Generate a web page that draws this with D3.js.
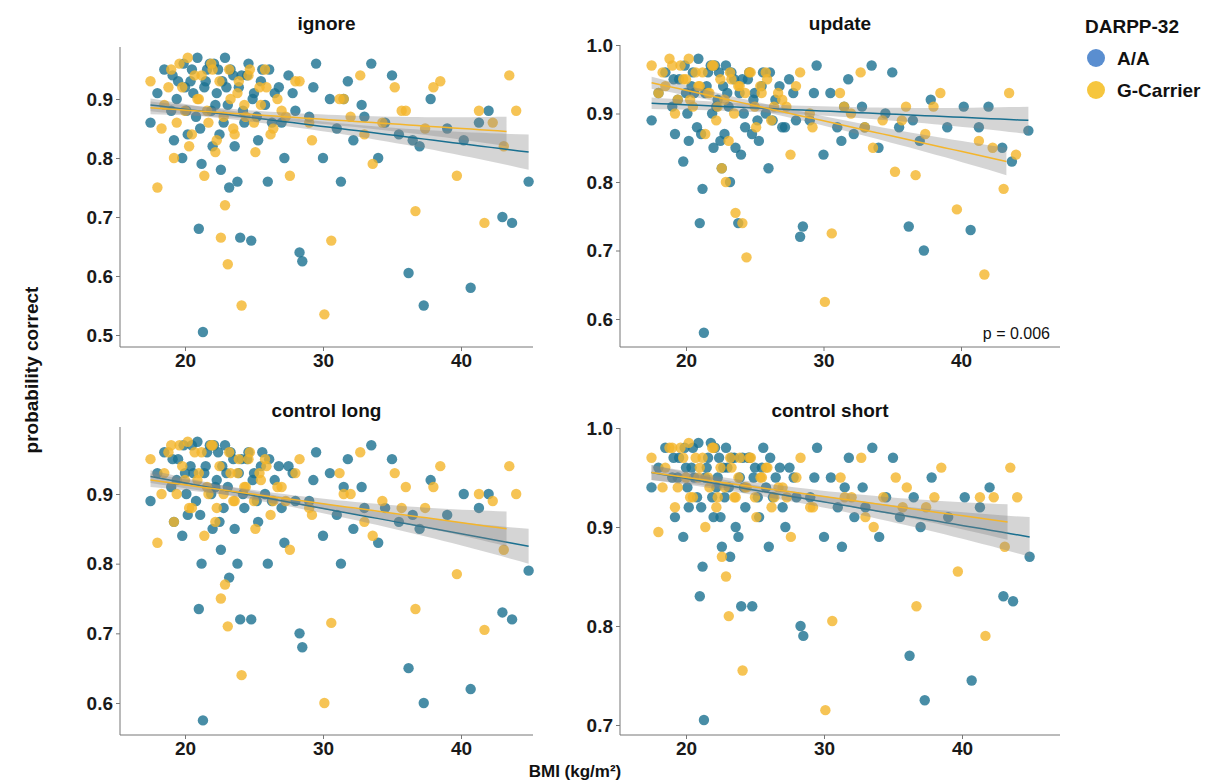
<!DOCTYPE html>
<html><head><meta charset="utf-8">
<script src="https://cdn.jsdelivr.net/npm/d3@7"></script>
<style>body{margin:0;background:#fff;font-family:Arial,"Liberation Sans",sans-serif}</style>
</head><body><svg id="c" width="1219" height="782"></svg>
<script>
// BMI per subject
const bmiAA=[17.5,18,18.5,19,19.2,19.5,19.8,20,20.2,20.5,20.8,21,21.2,21.3,21.5,21.8,22,22.2,22.4,22.6,22.8,23,23.2,23.5,23.8,24,24.2,24.5,24.8,25,25.3,25.6,26,26.3,26.8,27.2,27.8,28.3,28.5,29,29.5,30,30.5,31,31.3,31.8,32.2,32.8,33.5,34,34.5,35,35.5,36.2,36.5,37,37.3,37.8,39,40.2,40.7,41.3,42,43,43.7,44.9,
  19.1,19.4,19.9,20.1,20.4,20.6,20.9,21.1,21.4,21.6,21.9,22.1,22.3,22.5,22.7,22.9,23.1,23.3,23.6,23.9,24.1,24.3,24.6,24.9,25.2,25.5,25.8,26.1,26.5,27,27.5,28,29.3,31.5,33];
const bmiG=[17.5,18,18.3,18.8,19.2,19.6,20,20.3,20.7,21,21.4,21.7,22,22.3,22.6,22.9,23.1,23.3,23.6,23.9,24.1,24.4,24.7,25.1,25.5,25.9,26.4,27,27.6,28.3,29.2,30.1,30.6,31.2,32,32.7,33.6,34.3,35.2,36,36.7,37.4,38.5,39.7,41.3,41.7,42.3,43.1,43.5,44,
  18.5,19,19.4,19.8,20.2,20.5,20.9,21.2,21.6,21.9,22.2,22.5,22.8,23.2,23.5,23.8,24.3,24.6,25,25.4,25.8,26.2,26.7,27.3,28,29,31.5,33,35.7,38];

// probability correct per panel
const ignoreAA=[0.86,0.91,0.95,0.88,0.83,0.93,0.80,0.92,0.84,0.95,0.87,0.68,0.79,0.505,0.93,0.96,0.82,0.89,0.95,0.78,0.86,0.92,0.75,0.94,0.76,0.665,0.88,0.94,0.66,0.91,0.83,0.95,0.76,0.86,0.92,0.80,0.91,0.64,0.625,0.87,0.96,0.80,0.90,0.85,0.76,0.93,0.83,0.89,0.96,0.80,0.86,0.94,0.84,0.605,0.83,0.82,0.55,0.90,0.85,0.83,0.58,0.86,0.88,0.70,0.69,0.76,
  0.94,0.90,0.96,0.88,0.93,0.91,0.97,0.85,0.92,0.95,0.88,0.96,0.91,0.84,0.93,0.97,0.89,0.95,0.82,0.92,0.94,0.86,0.96,0.90,0.87,0.93,0.89,0.95,0.91,0.86,0.94,0.88,0.92,0.90,0.87];
const ignoreG=[0.93,0.75,0.85,0.92,0.80,0.96,0.88,0.82,0.94,0.90,0.77,0.86,0.95,0.83,0.665,0.72,0.62,0.90,0.84,0.93,0.55,0.87,0.95,0.81,0.89,0.92,0.85,0.88,0.77,0.93,0.83,0.535,0.66,0.90,0.87,0.94,0.79,0.86,0.92,0.88,0.71,0.85,0.93,0.77,0.88,0.69,0.86,0.82,0.94,0.88,
  0.89,0.95,0.86,0.92,0.97,0.84,0.90,0.94,0.88,0.96,0.81,0.93,0.87,0.95,0.85,0.91,0.89,0.94,0.86,0.92,0.95,0.84,0.90,0.87,0.93,0.86,0.90,0.84,0.88,0.92];
const updateAA=[0.89,0.93,0.96,0.91,0.87,0.95,0.83,0.93,0.86,0.96,0.88,0.74,0.79,0.58,0.94,0.97,0.85,0.91,0.96,0.82,0.87,0.93,0.80,0.95,0.74,0.84,0.90,0.95,0.87,0.93,0.86,0.96,0.82,0.89,0.94,0.88,0.93,0.72,0.735,0.89,0.97,0.84,0.93,0.88,0.86,0.95,0.87,0.91,0.97,0.85,0.90,0.96,0.88,0.735,0.89,0.86,0.70,0.92,0.88,0.91,0.73,0.88,0.91,0.85,0.83,0.875,
  0.95,0.92,0.97,0.90,0.94,0.93,0.98,0.87,0.93,0.96,0.90,0.97,0.92,0.86,0.94,0.97,0.91,0.96,0.85,0.93,0.95,0.88,0.96,0.92,0.89,0.94,0.90,0.96,0.92,0.88,0.95,0.89,0.93,0.91,0.88];
const updateG=[0.97,0.93,0.96,0.98,0.90,0.97,0.95,0.92,0.96,0.94,0.87,0.93,0.97,0.91,0.82,0.80,0.86,0.95,0.755,0.94,0.74,0.69,0.96,0.88,0.93,0.95,0.91,0.92,0.84,0.96,0.88,0.625,0.725,0.93,0.90,0.96,0.85,0.89,0.815,0.91,0.81,0.87,0.93,0.76,0.86,0.665,0.85,0.79,0.93,0.84,
  0.94,0.97,0.92,0.95,0.98,0.91,0.94,0.96,0.93,0.97,0.89,0.95,0.92,0.96,0.90,0.94,0.93,0.96,0.91,0.94,0.96,0.89,0.93,0.91,0.94,0.90,0.91,0.88,0.89,0.91];
const longAA=[0.89,0.93,0.96,0.91,0.86,0.95,0.84,0.93,0.87,0.97,0.89,0.735,0.80,0.575,0.94,0.97,0.85,0.91,0.96,0.82,0.88,0.93,0.78,0.95,0.80,0.72,0.90,0.95,0.72,0.93,0.86,0.96,0.80,0.89,0.94,0.83,0.93,0.70,0.68,0.89,0.96,0.84,0.93,0.87,0.80,0.95,0.85,0.91,0.97,0.83,0.88,0.95,0.86,0.65,0.87,0.85,0.60,0.92,0.87,0.90,0.62,0.88,0.90,0.73,0.72,0.79,
  0.95,0.92,0.97,0.90,0.94,0.93,0.975,0.87,0.93,0.96,0.90,0.97,0.92,0.86,0.94,0.97,0.91,0.96,0.85,0.93,0.95,0.88,0.96,0.92,0.89,0.94,0.90,0.95,0.92,0.88,0.94,0.89,0.92,0.91,0.88];
const longG=[0.95,0.83,0.90,0.96,0.86,0.97,0.92,0.88,0.96,0.93,0.84,0.90,0.97,0.88,0.75,0.77,0.71,0.93,0.89,0.95,0.64,0.91,0.96,0.85,0.92,0.94,0.89,0.91,0.82,0.95,0.87,0.60,0.715,0.93,0.90,0.96,0.84,0.89,0.93,0.91,0.735,0.88,0.94,0.785,0.90,0.705,0.89,0.82,0.94,0.90,
  0.93,0.97,0.90,0.94,0.975,0.88,0.92,0.96,0.91,0.97,0.86,0.94,0.90,0.96,0.89,0.93,0.91,0.95,0.89,0.93,0.95,0.87,0.91,0.89,0.93,0.88,0.90,0.86,0.88,0.91];
const shortAA=[0.94,0.96,0.98,0.95,0.91,0.97,0.89,0.96,0.92,0.98,0.93,0.83,0.86,0.705,0.96,0.985,0.91,0.94,0.97,0.88,0.93,0.96,0.87,0.97,0.89,0.82,0.94,0.97,0.82,0.96,0.91,0.98,0.88,0.93,0.96,0.90,0.95,0.80,0.79,0.93,0.98,0.89,0.95,0.92,0.88,0.97,0.91,0.94,0.98,0.89,0.93,0.97,0.91,0.77,0.93,0.90,0.725,0.95,0.91,0.93,0.745,0.92,0.94,0.83,0.825,0.87,
  0.97,0.95,0.98,0.94,0.96,0.95,0.985,0.92,0.95,0.97,0.93,0.98,0.95,0.91,0.96,0.98,0.94,0.97,0.90,0.95,0.97,0.92,0.97,0.95,0.93,0.96,0.94,0.97,0.95,0.92,0.96,0.93,0.95,0.94,0.92];
const shortG=[0.97,0.895,0.94,0.98,0.92,0.98,0.95,0.93,0.97,0.96,0.90,0.94,0.98,0.93,0.87,0.85,0.81,0.96,0.93,0.97,0.755,0.94,0.97,0.91,0.95,0.96,0.93,0.94,0.89,0.97,0.92,0.715,0.805,0.95,0.93,0.97,0.90,0.93,0.95,0.94,0.82,0.92,0.96,0.855,0.93,0.79,0.93,0.88,0.96,0.93,
  0.96,0.98,0.94,0.97,0.985,0.93,0.95,0.97,0.95,0.98,0.92,0.96,0.94,0.97,0.93,0.95,0.94,0.97,0.93,0.95,0.96,0.92,0.94,0.93,0.95,0.92,0.93,0.91,0.92,0.93];

// fitted lines: [x0, y0, x1, y1, halfwidth centre, halfwidth end]
const fitAA={ignore:[17.5,0.89,44.9,0.81,0.007,0.03],update:[17.5,0.915,44.9,0.89,0.006,0.02],long:[17.5,0.925,44.9,0.825,0.006,0.025],short:[17.5,0.955,44.9,0.89,0.005,0.02]};
const fitG={ignore:[17.5,0.885,43.3,0.845,0.007,0.025],update:[17.5,0.945,43.3,0.83,0.006,0.02],long:[17.5,0.92,43.3,0.85,0.006,0.025],short:[17.5,0.955,43.3,0.905,0.005,0.018]};

const panels=[
  {key:"ignore",title:"ignore",aa:ignoreAA,g:ignoreG,yt:[0.5,0.6,0.7,0.8,0.9],yd:[0.5,0.9],yr:[335,99],xr:[185,461],box:[120,47,533,347],ty:30},
  {key:"update",title:"update",aa:updateAA,g:updateG,yt:[0.6,0.7,0.8,0.9,1.0],yd:[0.6,1.0],yr:[319,45],xr:[686,961],box:[620,45,1060,347],ty:30,p:"p = 0.006"},
  {key:"long",title:"control long",aa:longAA,g:longG,yt:[0.6,0.7,0.8,0.9],yd:[0.6,0.9],yr:[703,494],xr:[185,461],box:[120,427,533,735],ty:417},
  {key:"short",title:"control short",aa:shortAA,g:shortG,yt:[0.7,0.8,0.9,1.0],yd:[0.7,1.0],yr:[725,428],xr:[686,962],box:[620,428,1060,735],ty:417}
];
const xTicks=[20,30,40];
const cAA="#1a7090",cG="#f4b52b";

const svg=d3.select("#c");
panels.forEach(p=>{
  const [L,T,R,B]=p.box;
  const x=d3.scaleLinear().domain([20,40]).range(p.xr);
  const y=d3.scaleLinear().domain(p.yd).range(p.yr);
  const g=svg.append("g");
  g.append("text").attr("x",(L+R)/2+(p.key=="short"?-10:0)).attr("y",p.ty).attr("text-anchor","middle")
    .attr("font-size",19).attr("font-weight","bold").attr("fill","#111").text(p.title);
  const yAx=g.append("g").attr("transform",`translate(${L},0)`).call(d3.axisLeft(y).tickValues(p.yt).tickFormat(d3.format(".1f")).tickSize(4).tickSizeOuter(0));
  yAx.select(".domain").attr("d",`M0,${T}V${B}`);
  const xAx=g.append("g").attr("transform",`translate(0,${B})`).call(d3.axisBottom(x).tickValues(xTicks).tickSize(4).tickSizeOuter(0));
  xAx.select(".domain").attr("d",`M${L},0H${R}`);
  [yAx,xAx].forEach(a=>{a.selectAll("path,line").attr("stroke","#777");
    a.selectAll("text").attr("font-size",19).attr("font-weight","bold").attr("fill","#1a1a1a").attr("font-family","Arial,'Liberation Sans',sans-serif");});
  const pts=g.append("g");
  const draw=(bmi,vals,col)=>pts.selectAll(null).data(d3.zip(bmi,vals)).join("circle")
    .attr("cx",d=>x(d[0])).attr("cy",d=>y(d[1])).attr("r",5.2).attr("fill",col).attr("fill-opacity",0.8);
  draw(bmiAA,p.aa,cAA); draw(bmiG,p.g,cG);
  [[fitAA[p.key],cAA],[fitG[p.key],cG]].forEach(([f,col])=>{
    const [x0,y0,x1,y1,hc,he]=f, m=25.5;
    const xs=d3.range(0,41).map(i=>x0+(x1-x0)*i/40);
    const fy=v=>y0+(y1-y0)*(v-x0)/(x1-x0);
    const hw=v=>hc+(he-hc)*Math.pow((v-m)/(x1-m),2);
    g.append("path").datum(xs).attr("fill","#888").attr("fill-opacity",0.35)
      .attr("d",d3.area().x(v=>x(v)).y0(v=>y(fy(v)-hw(v))).y1(v=>y(fy(v)+hw(v))));
    g.append("path").datum(xs).attr("fill","none").attr("stroke",col).attr("stroke-width",1.5)
      .attr("d",d3.line().x(v=>x(v)).y(v=>y(fy(v))));
  });
  if(p.p) g.append("text").attr("x",R-10).attr("y",B-8).attr("text-anchor","end").attr("font-size",16).attr("fill","#111").text(p.p);
});

svg.append("text").attr("transform","translate(38,370)rotate(-90)").attr("text-anchor","middle")
  .attr("font-size",19).attr("font-weight","bold").attr("fill","#111").text("probability correct");
svg.append("text").attr("x",575).attr("y",777).attr("text-anchor","middle")
  .attr("font-size",17).attr("font-weight","bold").attr("fill","#111").text("BMI (kg/m²)");

const leg=svg.append("g");
leg.append("text").attr("x",1085).attr("y",33).attr("font-size",19).attr("font-weight","bold").attr("fill","#111").text("DARPP-32");
[["A/A","#5a8ed0"],["G-Carrier","#f6c63e"]].forEach(([t,c],i)=>{
  leg.append("circle").attr("cx",1096).attr("cy",58+i*32).attr("r",9).attr("fill",c);
  leg.append("text").attr("x",1117).attr("y",65+i*32).attr("font-size",19).attr("font-weight","bold").attr("fill","#111").text(t);
});
</script></body></html>
